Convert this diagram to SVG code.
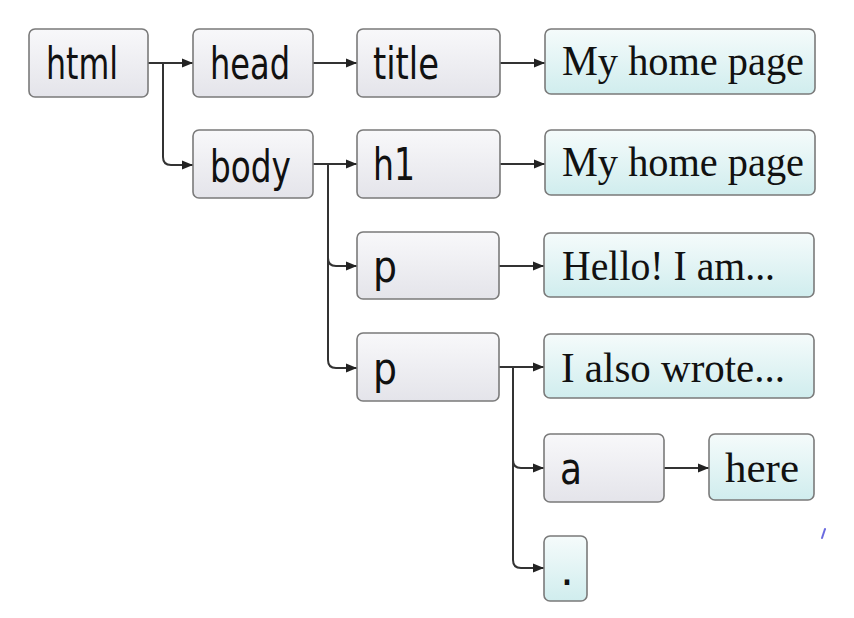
<svg xmlns="http://www.w3.org/2000/svg" width="854" height="618" viewBox="0 0 854 618">
  <defs>
    <linearGradient id="gGrey" x1="0" y1="0" x2="0" y2="1">
      <stop offset="0" stop-color="#f8f8fa"/>
      <stop offset="1" stop-color="#e4e4ea"/>
    </linearGradient>
    <linearGradient id="gTeal" x1="0" y1="0" x2="0" y2="1">
      <stop offset="0" stop-color="#f5fbfb"/>
      <stop offset="1" stop-color="#d0edee"/>
    </linearGradient>
    <marker id="arr" markerUnits="userSpaceOnUse" markerWidth="12" markerHeight="10" refX="11" refY="5" orient="auto">
      <path d="M0,0.5 L11,5 L0,9.5 z" fill="#222"/>
    </marker>
  </defs>
  <style>
    .el { fill: url(#gGrey); stroke: #7a7a7a; stroke-width: 1.6; }
    .tx { fill: url(#gTeal); stroke: #7a7a7a; stroke-width: 1.6; }
    .sans { font-family: "DejaVu Sans", sans-serif; font-size: 44px; fill: #111; }
    .serif { font-family: "Liberation Serif", "DejaVu Serif", serif; font-size: 43px; fill: #111; }
    .c { fill: none; stroke: #333; stroke-width: 2; marker-end: url(#arr); }
  </style>
  <rect width="854" height="618" fill="#ffffff"/>

  <g id="connectors">
    <path class="c" d="M148,63 H193"/>
    <path class="c" d="M163,63 V157 Q163,165 171,165 H193"/>
    <path class="c" d="M313,63 H357"/>
    <path class="c" d="M500,63 H545"/>
    <path class="c" d="M313,164 H357"/>
    <path class="c" d="M328,164 V258 Q328,266 336,266 H357"/>
    <path class="c" d="M328,164 V360 Q328,368 336,368 H357"/>
    <path class="c" d="M500,164 H545"/>
    <path class="c" d="M499,266 H544"/>
    <path class="c" d="M499,367 H544"/>
    <path class="c" d="M513,367 V460 Q513,468 521,468 H544"/>
    <path class="c" d="M513,367 V560 Q513,568 521,568 H544"/>
    <path class="c" d="M664,468 H709"/>
  </g>

  <g id="n-html"><rect class="el" x="29" y="29" width="119" height="68" rx="6"/><text class="sans" x="46" y="79" textLength="72" lengthAdjust="spacingAndGlyphs">html</text></g>
  <g id="n-head"><rect class="el" x="193" y="29" width="120" height="68" rx="6"/><text class="sans" x="210" y="79" textLength="80" lengthAdjust="spacingAndGlyphs">head</text></g>
  <g id="n-title"><rect class="el" x="357" y="29" width="143" height="68" rx="6"/><text class="sans" x="373" y="79" textLength="66" lengthAdjust="spacingAndGlyphs">title</text></g>
  <g id="n-title-text"><rect class="tx" x="545" y="29" width="270" height="65" rx="6"/><text class="serif" x="562" y="75" textLength="242" lengthAdjust="spacingAndGlyphs">My home page</text></g>

  <g id="n-body"><rect class="el" x="193" y="130" width="120" height="68" rx="6"/><text class="sans" x="210" y="182" textLength="81" lengthAdjust="spacingAndGlyphs">body</text></g>
  <g id="n-h1"><rect class="el" x="357" y="130" width="143" height="68" rx="6"/><text class="sans" x="373" y="180" textLength="42" lengthAdjust="spacingAndGlyphs">h1</text></g>
  <g id="n-h1-text"><rect class="tx" x="545" y="130" width="270" height="65" rx="6"/><text class="serif" x="562" y="176" textLength="242" lengthAdjust="spacingAndGlyphs">My home page</text></g>

  <g id="n-p1"><rect class="el" x="357" y="232" width="142" height="67" rx="6"/><text class="sans" x="373" y="282" textLength="24" lengthAdjust="spacingAndGlyphs">p</text></g>
  <g id="n-p1-text"><rect class="tx" x="544" y="233" width="270" height="64" rx="6"/><text class="serif" x="562" y="280" textLength="213" lengthAdjust="spacingAndGlyphs">Hello! I am...</text></g>

  <g id="n-p2"><rect class="el" x="357" y="333" width="142" height="68" rx="6"/><text class="sans" x="373" y="384" textLength="24" lengthAdjust="spacingAndGlyphs">p</text></g>
  <g id="n-p2-text"><rect class="tx" x="544" y="334" width="270" height="64" rx="6"/><text class="serif" x="561" y="382" textLength="224" lengthAdjust="spacingAndGlyphs">I also wrote...</text></g>

  <g id="n-a"><rect class="el" x="544" y="434" width="120" height="68" rx="6"/><text class="sans" x="560" y="484" textLength="22" lengthAdjust="spacingAndGlyphs">a</text></g>
  <g id="n-a-text"><rect class="tx" x="709" y="434" width="105" height="66" rx="6"/><text class="serif" x="725" y="482" textLength="74" lengthAdjust="spacingAndGlyphs">here</text></g>

  <g id="n-dot"><rect class="tx" x="544" y="536" width="43" height="65" rx="6"/><text class="sans" x="560" y="585" textLength="14" lengthAdjust="spacingAndGlyphs">.</text></g>

  <path d="M825,529 L822,538" stroke="#6a6ae0" stroke-width="2" fill="none" stroke-linecap="round"/>
</svg>
